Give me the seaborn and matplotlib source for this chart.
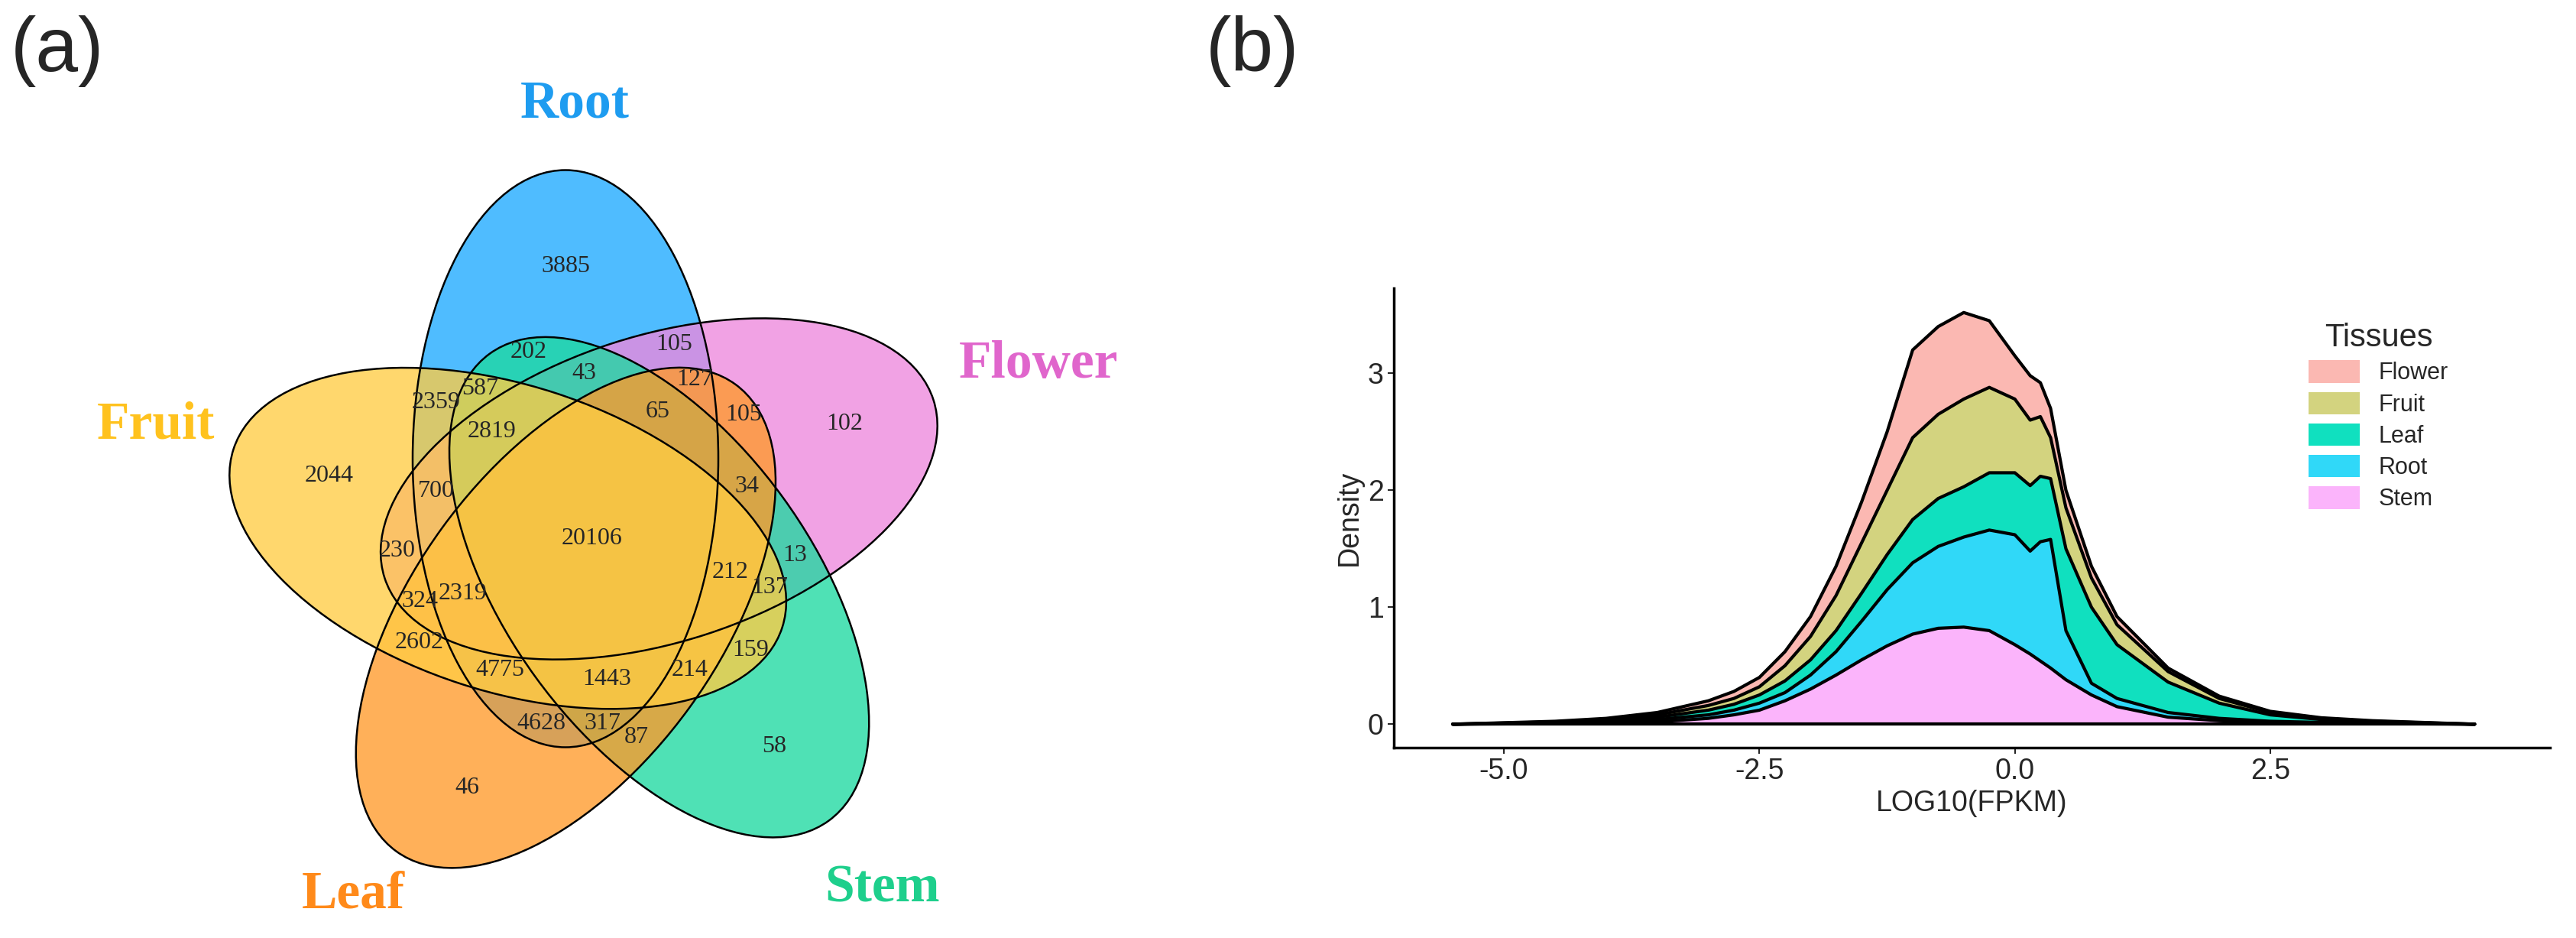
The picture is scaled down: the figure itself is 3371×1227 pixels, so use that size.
import numpy as np
import pandas as pd
import seaborn as sns
import matplotlib
matplotlib.use("Agg")
import matplotlib.pyplot as plt
from matplotlib.patches import Ellipse, Patch

# ---- panel (a): five-set Venn ----
sets = ["Root", "Flower", "Stem", "Leaf", "Fruit"]
set_colors = ["#1eaaff", "#ee88dd", "#1ed9a0", "#ff9a2a", "#ffcc44"]
label_colors = ["#1e9cf0", "#e066cc", "#1ecf8c", "#ff8a1a", "#ffc21e"]

counts = [3885, 202, 105, 43, 587, 2359, 127, 65, 105, 102, 2819, 2044, 700, 34,
          20106, 230, 13, 212, 137, 324, 2319, 2602, 159, 4775, 1443, 214,
          4628, 317, 87, 58, 46]
count_xy = [(740, 348), (692, 460), (882, 451), (764, 488), (628, 509), (571, 526),
            (909, 497), (861, 539), (973, 543), (1105, 555), (644, 564), (431, 622),
            (571, 642), (977, 637), (775, 704), (520, 720), (1040, 727), (956, 749),
            (1007, 768), (549, 787), (606, 776), (549, 841), (982, 850), (654, 876),
            (794, 889), (903, 876), (708, 946), (788, 946), (833, 965),
            (1013, 976), (611, 1031)]
set_label_xy = [(752, 137), (1359, 477), (1155, 1162), (462, 1170), (204, 556)]

# ---- panel (b): stacked density of LOG10(FPKM) ----
x = [-5.5, -4.5, -4, -3.5, -3, -2.75, -2.5, -2.25, -2, -1.75, -1.5, -1.25, -1,
     -0.75, -0.5, -0.25, 0, 0.15, 0.25, 0.35, 0.5, 0.75, 1, 1.5, 2, 2.5, 3, 3.5, 4.5]
# cumulative tops of the stacked areas
stem_top = [0, 0.005, 0.01, 0.02, 0.05, 0.08, 0.12, 0.2, 0.3, 0.42, 0.55, 0.67, 0.77,
            0.82, 0.83, 0.8, 0.68, 0.6, 0.54, 0.48, 0.38, 0.25, 0.15, 0.06, 0.03, 0.015, 0.01, 0.005, 0]
root_top = [0, 0.01, 0.02, 0.04, 0.08, 0.12, 0.18, 0.27, 0.42, 0.62, 0.88, 1.15, 1.38,
            1.52, 1.6, 1.66, 1.62, 1.48, 1.56, 1.58, 0.8, 0.35, 0.22, 0.1, 0.05, 0.025, 0.015, 0.01, 0]
leaf_top = [0, 0.015, 0.03, 0.06, 0.12, 0.17, 0.25, 0.37, 0.55, 0.8, 1.12, 1.45, 1.75,
            1.93, 2.03, 2.15, 2.15, 2.04, 2.12, 2.1, 1.5, 1.0, 0.68, 0.36, 0.18, 0.08, 0.04, 0.02, 0]
fruit_top = [0, 0.02, 0.04, 0.08, 0.16, 0.22, 0.32, 0.5, 0.75, 1.1, 1.55, 2.0, 2.45,
             2.65, 2.78, 2.88, 2.78, 2.6, 2.63, 2.45, 1.85, 1.25, 0.85, 0.45, 0.22, 0.1, 0.05, 0.025, 0]
flower_top = [0, 0.025, 0.05, 0.1, 0.2, 0.28, 0.4, 0.62, 0.92, 1.35, 1.9, 2.5, 3.2,
              3.4, 3.52, 3.45, 3.15, 2.98, 2.92, 2.7, 2.0, 1.35, 0.92, 0.48, 0.24, 0.11, 0.055, 0.03, 0]
tissues = ["Flower", "Fruit", "Leaf", "Root", "Stem"]
tissue_colors = ["#fbb8b2", "#d3d37f", "#10e0bf", "#30d8f8", "#fbb4fb"]

sns.set_theme(style="white")
plt.rcParams['font.family'] = ['Liberation Sans', 'DejaVu Sans']

fig = plt.figure(figsize=(33.71, 12.27), dpi=100)

# Venn
axa = fig.add_axes([0, 0, 0.5, 1])
axa.set_xlim(0, 1685.5)
axa.set_ylim(1227, 0)
axa.axis("off")
cx, cy = 774, 704
off = np.array([-34, -104])
centres = []
for i in range(5):
    th = np.deg2rad(72 * i)
    dx = off[0] * np.cos(th) - off[1] * np.sin(th)
    dy = off[0] * np.sin(th) + off[1] * np.cos(th)
    centres.append((cx + dx, cy + dy))
for i, col in enumerate(set_colors):
    axa.add_patch(Ellipse(centres[i], 400, 755, angle=72 * i,
                          facecolor=col, alpha=0.78, edgecolor="none"))
for i in range(5):
    axa.add_patch(Ellipse(centres[i], 400, 755, angle=72 * i,
                          facecolor="none", edgecolor="black", lw=1.8))
for n, (px, py) in zip(counts, count_xy):
    axa.text(px, py, str(n), ha="center", va="center", fontsize=23,
             family="Liberation Serif")
for name, col, (px, py) in zip(sets, label_colors, set_label_xy):
    axa.text(px, py, name, ha="center", va="center", fontsize=50, color=col,
             fontweight="bold", family="Liberation Serif")
fig.text(0.004, 0.945, "(a)", fontsize=72, va="center")
fig.text(0.468, 0.945, "(b)", fontsize=72, va="center")

# Density
axb = fig.add_axes([0.541, 0.203, 0.449, 0.49])
layers = [stem_top, root_top, leaf_top, fruit_top, flower_top]
layer_colors = tissue_colors[::-1]
prev = np.zeros(len(x))
for top, col in zip(layers, layer_colors):
    axb.fill_between(x, prev, top, color=col, lw=0)
    prev = np.array(top)
df = pd.DataFrame({"x": x * 5,
                   "y": stem_top + root_top + leaf_top + fruit_top + flower_top,
                   "layer": sum([[t] * len(x) for t in tissues[::-1]], [])})
sns.lineplot(data=df, x="x", y="y", units="layer", estimator=None, color="black",
             lw=3, ax=axb)
axb.plot(x, np.zeros(len(x)), color="black", lw=3)
axb.set_xlim(-6.08, 5.24)
axb.set_ylim(-0.2, 3.73)
axb.set_xticks([-5.0, -2.5, 0.0, 2.5])
axb.set_xticklabels(["-5.0", "-2.5", "0.0", "2.5"])
axb.set_yticks([0, 1, 2, 3])
axb.tick_params(labelsize=27, length=6, width=1.5, left=True, bottom=True)
axb.set_xlabel("LOG10(FPKM)", fontsize=27)
axb.set_ylabel("Density", fontsize=27)
sns.despine(ax=axb)
for s in ["left", "bottom"]:
    axb.spines[s].set_linewidth(2.5)
    axb.spines[s].set_color("black")
handles = [Patch(facecolor=c, edgecolor="none", label=t) for t, c in zip(tissues, tissue_colors)]
axb.legend(handles=handles, title="Tissues", frameon=False, loc="upper right",
           bbox_to_anchor=(0.93, 0.97), fontsize=22, title_fontsize=30,
           handlelength=2.2, handleheight=1.1, labelspacing=0.3)

fig.savefig("out.png", dpi=100)
